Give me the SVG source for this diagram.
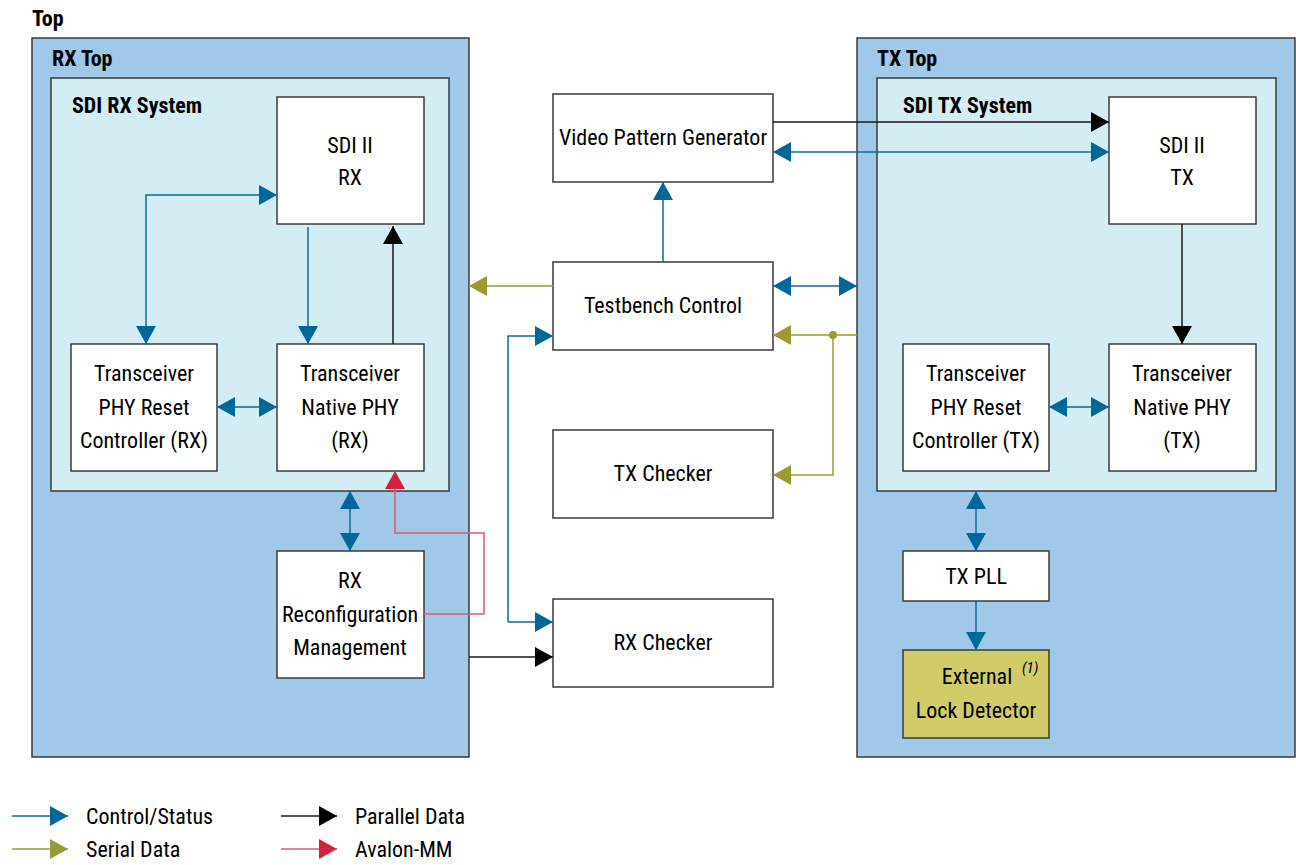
<svg xmlns="http://www.w3.org/2000/svg" width="1296" height="865" viewBox="0 0 1296 865">
  <style>
    text { font-family: "Liberation Sans Narrow", "Roboto Condensed", "Arial Narrow", sans-serif; font-stretch: condensed; font-size: 22px; fill: #000; }
    .title { font-weight: bold; }
    .c { text-anchor: middle; }
    .outer { fill: #9fc8e9; stroke: #3a3a3a; stroke-width: 1.5; }
    .inner { fill: #d4ecf4; stroke: #3a3a3a; stroke-width: 1.5; }
    .box { fill: #ffffff; stroke: #3a3a3a; stroke-width: 1.5; }
    .ext { fill: #cfcc69; stroke: #3a3a3a; stroke-width: 1.5; }
    .ctl { fill: none; stroke: #0a6a9c; stroke-width: 1.5; }
    .ser { fill: none; stroke: #9a9a32; stroke-width: 1.5; }
    .par { fill: none; stroke: #1a1a1a; stroke-width: 1.5; }
    .avl { fill: none; stroke: #e05a70; stroke-width: 1.5; }
    .ctl-a { marker-end: url(#a-ctl); }
    .ctl-b { marker-start: url(#a-ctl); marker-end: url(#a-ctl); }
    .ser-a { marker-end: url(#a-ser); }
    .par-a { marker-end: url(#a-par); }
    .avl-a { marker-end: url(#a-avl); }
  </style>
  <defs>
    <marker id="a-ctl" markerUnits="userSpaceOnUse" markerWidth="18" markerHeight="20" refX="18" refY="10" orient="auto-start-reverse">
      <path d="M0,0 L18,10 L0,20 z" fill="#00679b"/>
    </marker>
    <marker id="a-ser" markerUnits="userSpaceOnUse" markerWidth="18" markerHeight="20" refX="18" refY="10" orient="auto-start-reverse">
      <path d="M0,0 L18,10 L0,20 z" fill="#9a9a32"/>
    </marker>
    <marker id="a-par" markerUnits="userSpaceOnUse" markerWidth="18" markerHeight="20" refX="18" refY="10" orient="auto-start-reverse">
      <path d="M0,0 L18,10 L0,20 z" fill="#000000"/>
    </marker>
    <marker id="a-avl" markerUnits="userSpaceOnUse" markerWidth="18" markerHeight="20" refX="18" refY="10" orient="auto-start-reverse">
      <path d="M0,0 L18,10 L0,20 z" fill="#d4213d"/>
    </marker>
  </defs>

  <text class="title" x="32" y="26">Top</text>

  <!-- RX side containers -->
  <g id="rx-top">
    <rect class="outer" x="32" y="38" width="437" height="719"/>
    <text class="title" x="52" y="66">RX Top</text>
  </g>
  <g id="sdi-rx-system">
    <rect class="inner" x="51" y="78" width="398" height="413"/>
    <text class="title" x="72" y="113">SDI RX System</text>
  </g>

  <!-- TX side containers -->
  <g id="tx-top">
    <rect class="outer" x="857" y="38" width="438" height="719"/>
    <text class="title" x="877" y="66">TX Top</text>
  </g>
  <g id="sdi-tx-system">
    <rect class="inner" x="877" y="78" width="399" height="413"/>
    <text class="title" x="903" y="113">SDI TX System</text>
  </g>

  <!-- RX blocks -->
  <g id="sdi-ii-rx">
    <rect class="box" x="277" y="97" width="147" height="127"/>
    <text class="c" x="350" y="153">SDI II</text>
    <text class="c" x="350" y="185">RX</text>
  </g>
  <g id="phy-reset-rx">
    <rect class="box" x="71" y="344" width="146" height="127"/>
    <text class="c" x="144" y="381">Transceiver</text>
    <text class="c" x="144" y="415">PHY Reset</text>
    <text class="c" x="144" y="448">Controller (RX)</text>
  </g>
  <g id="native-phy-rx">
    <rect class="box" x="277" y="344" width="147" height="127"/>
    <text class="c" x="350" y="381">Transceiver</text>
    <text class="c" x="350" y="415">Native PHY</text>
    <text class="c" x="350" y="448">(RX)</text>
  </g>
  <g id="rx-reconfig">
    <rect class="box" x="277" y="551" width="147" height="127"/>
    <text class="c" x="350" y="588">RX</text>
    <text class="c" x="350" y="622">Reconfiguration</text>
    <text class="c" x="350" y="655">Management</text>
  </g>

  <!-- Testbench blocks -->
  <g id="video-pattern-generator">
    <rect class="box" x="553" y="94" width="220" height="88"/>
    <text class="c" x="663" y="145">Video Pattern Generator</text>
  </g>
  <g id="testbench-control">
    <rect class="box" x="553" y="262" width="220" height="88"/>
    <text class="c" x="663" y="313">Testbench Control</text>
  </g>
  <g id="tx-checker">
    <rect class="box" x="553" y="430" width="220" height="88"/>
    <text class="c" x="663" y="481">TX Checker</text>
  </g>
  <g id="rx-checker">
    <rect class="box" x="553" y="599" width="220" height="88"/>
    <text class="c" x="663" y="650">RX Checker</text>
  </g>

  <!-- TX blocks -->
  <g id="sdi-ii-tx">
    <rect class="box" x="1109" y="97" width="147" height="127"/>
    <text class="c" x="1182" y="153">SDI II</text>
    <text class="c" x="1182" y="185">TX</text>
  </g>
  <g id="phy-reset-tx">
    <rect class="box" x="903" y="344" width="146" height="127"/>
    <text class="c" x="976" y="381">Transceiver</text>
    <text class="c" x="976" y="415">PHY Reset</text>
    <text class="c" x="976" y="448">Controller (TX)</text>
  </g>
  <g id="native-phy-tx">
    <rect class="box" x="1109" y="344" width="147" height="127"/>
    <text class="c" x="1182" y="381">Transceiver</text>
    <text class="c" x="1182" y="415">Native PHY</text>
    <text class="c" x="1182" y="448">(TX)</text>
  </g>
  <g id="tx-pll">
    <rect class="box" x="903" y="551" width="146" height="50"/>
    <text class="c" x="976" y="584">TX PLL</text>
  </g>
  <g id="external-lock-detector">
    <rect class="ext" x="903" y="650" width="146" height="88"/>
    <text class="c" x="977" y="684">External</text>
    <text class="c" x="976" y="718">Lock Detector</text>
    <text x="1022" y="673" style="font-size:15px;font-style:italic">(1)</text>
  </g>

  <!-- Connectors -->
  <g id="connectors">
    <!-- RX system -->
    <path class="ctl ctl-b" d="M277,195 H146 V344"/>
    <path class="ctl ctl-a" d="M308,227 V344"/>
    <path class="par par-a" d="M393,344 V226"/>
    <path class="ctl ctl-b" d="M217,407 H277"/>
    <path class="ctl ctl-b" d="M350,491 V551"/>
    <path class="avl avl-a" d="M424,614 H484 V533 H395 V471"/>
    <path class="par par-a" d="M469,657 H553"/>

    <!-- testbench -->
    <path class="ser ser-a" d="M553,286 H469"/>
    <path class="ctl ctl-a" d="M663,262 V182"/>
    <path class="ctl ctl-a" d="M508,622 V336 H553"/>
    <path class="ctl ctl-a" d="M508,622 H553"/>
    <path class="par par-a" d="M773,122 H1109"/>
    <path class="ctl ctl-b" d="M773,152 H1109"/>
    <path class="ctl ctl-b" d="M773,286 H857"/>
    <path class="ser ser-a" d="M857,335 H773"/>
    <path class="ser ser-a" d="M833,335 V475 H773"/>
    <circle cx="833" cy="335" r="4" fill="#9a9a32"/>

    <!-- TX system -->
    <path class="par par-a" d="M1182,224 V344"/>
    <path class="ctl ctl-b" d="M1049,407 H1109"/>
    <path class="ctl ctl-b" d="M976,491 V551"/>
    <path class="ctl ctl-a" d="M976,601 V650"/>
  </g>

  <!-- Legend -->
  <g id="legend">
    <path class="ctl ctl-a" d="M12,816 H68"/>
    <text x="86" y="824">Control/Status</text>
    <path class="ser ser-a" d="M12,849 H68"/>
    <text x="86" y="857">Serial Data</text>
    <path class="par par-a" d="M281,816 H337"/>
    <text x="355" y="824">Parallel Data</text>
    <path class="avl avl-a" d="M281,849 H337"/>
    <text x="355" y="857">Avalon-MM</text>
  </g>
</svg>
